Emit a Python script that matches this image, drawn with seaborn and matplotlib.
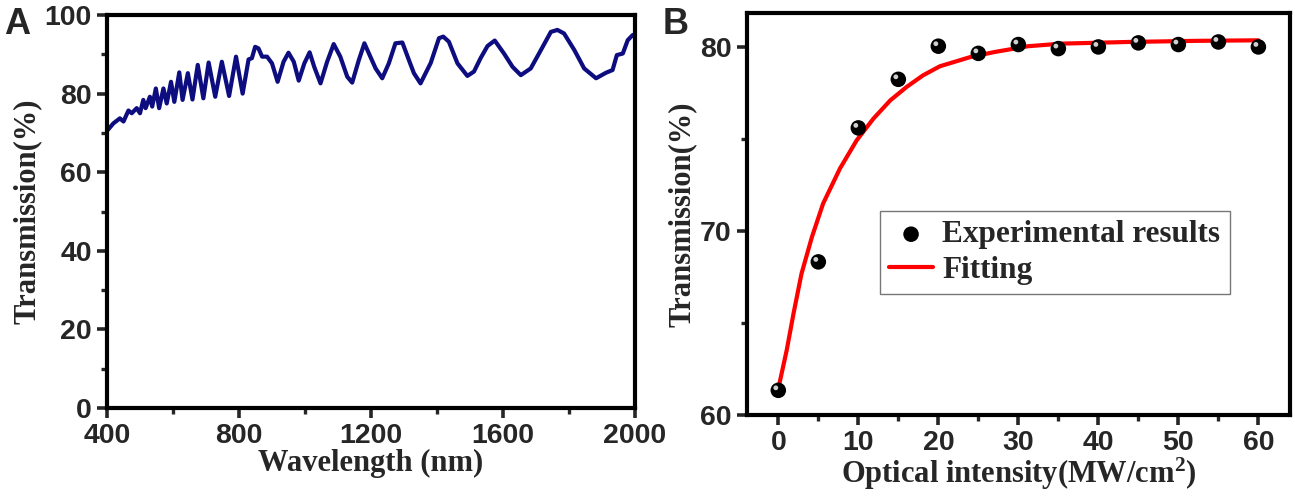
import numpy as np
import pandas as pd
import matplotlib
matplotlib.use("Agg")
import matplotlib.pyplot as plt
import matplotlib.transforms as mtransforms
from matplotlib.ticker import MultipleLocator
import seaborn as sns

# Panel A: transmission spectrum
wavelength = [400, 419, 439, 450, 465, 475, 490, 500, 510, 517, 530, 537, 548, 558,
              571, 581, 594, 604, 619, 629, 645, 659, 675, 692, 708, 728, 748, 770,
              791, 811, 829, 839, 849, 859, 870, 885, 900, 917, 935, 950, 966, 981,
              998, 1014, 1028, 1047, 1067, 1087, 1107, 1128, 1143, 1163, 1180, 1198,
              1214, 1234, 1254, 1274, 1295, 1315, 1330, 1350, 1381, 1406, 1419, 1436,
              1462, 1492, 1512, 1532, 1553, 1575, 1603, 1629, 1654, 1684, 1715, 1745,
              1765, 1785, 1816, 1846, 1882, 1912, 1932, 1945, 1963, 1978, 1993, 2000]
spectrum = [70.5, 72.4, 73.7, 72.9, 75.7, 75.0, 76.3, 75.0, 78.4, 76.3, 79.2, 76.7, 81.3, 76.3,
            81.3, 77.5, 83.0, 77.9, 85.4, 78.4, 85.2, 78.5, 87.3, 78.8, 87.9, 79.2, 88.1, 79.4,
            89.4, 80.0, 88.7, 89.0, 91.9, 91.5, 89.4, 89.4, 87.7, 83.0, 88.1, 90.4, 88.1, 83.3,
            87.7, 90.5, 86.8, 82.6, 88.1, 92.6, 89.4, 84.3, 82.8, 88.5, 92.8, 89.4,
            86.4, 83.9, 87.7, 92.8, 93.0, 88.5, 85.2, 82.6, 87.8, 94.1, 94.5, 93.2,
            87.7, 84.5, 85.6, 89.0, 92.1, 93.5, 90.2, 86.8, 84.7, 86.4, 91.1, 95.7,
            96.2, 95.3, 91.1, 86.4, 83.9, 85.3, 86.0, 89.8, 90.2, 93.6, 94.9, 95.0]

# Panel B: transmission vs optical intensity
intensity = [0, 5, 10, 15, 20, 25, 30, 35, 40, 45, 50, 55, 60]
measured = [61.34, 68.32, 75.6, 78.24, 80.04, 79.65, 80.13, 79.91, 80.0, 80.22, 80.13, 80.27, 80.0]
fit_x = [0, 1.05, 1.9, 2.9, 4.2, 5.6, 7.7, 9.8, 11.9, 14.0, 16.05, 18.1, 20.2, 24.0,
         27.1, 31.25, 35.4, 43.75, 52.1, 60]
fit_y = [61.43, 63.52, 65.51, 67.68, 69.67, 71.49, 73.39, 74.93, 76.11, 77.10, 77.83, 78.46,
         78.95, 79.45, 79.73, 80.04, 80.18, 80.27, 80.33, 80.36]

sns.set_style("ticks")
plt.rcParams["mathtext.fontset"] = "custom"
plt.rcParams["mathtext.bf"] = "Liberation Serif:bold"
plt.rcParams["mathtext.rm"] = "Liberation Serif:bold"
plt.rcParams["mathtext.default"] = "bf"

tick_font = {"family": "Liberation Sans", "weight": "bold", "size": 20.5}
label_font = {"family": "Liberation Serif", "weight": "bold", "size": 22}

fig = plt.figure(figsize=(12.95, 4.96), dpi=100)
axA = fig.add_axes([107 / 1295, 1 - 408 / 496, 528 / 1295, 393 / 496])
axB = fig.add_axes([746.7 / 1295, 1 - 415 / 496, 543.3 / 1295, 402.3 / 496])


def style_axis(ax):
    for sp in ax.spines.values():
        sp.set_linewidth(3.0)
        sp.set_color("black")
        sp.set_visible(True)
    ax.tick_params(which="major", direction="out", length=7, width=2.6, pad=4,
                   top=False, right=False)
    ax.tick_params(which="minor", direction="out", length=4, width=2.4,
                   top=False, right=False)
    for lab in ax.get_xticklabels() + ax.get_yticklabels():
        lab.set_fontproperties(tick_font)
    ax.grid(False)


# ---- panel A
dfA = pd.DataFrame({"wl": wavelength, "T": spectrum})
sns.lineplot(data=dfA, x="wl", y="T", ax=axA, color="#0d0d80", linewidth=3.0,
             solid_joinstyle="round")
axA.set_xlim(400, 2000)
axA.set_ylim(0, 100)
axA.xaxis.set_major_locator(MultipleLocator(400))
axA.xaxis.set_minor_locator(MultipleLocator(200))
axA.yaxis.set_major_locator(MultipleLocator(20))
axA.yaxis.set_minor_locator(MultipleLocator(10))
axA.set_xlabel("Wavelength (nm)", fontdict=label_font, labelpad=0)
axA.set_ylabel("Transmission(%)", fontdict=label_font, labelpad=2)
style_axis(axA)

# ---- panel B
dfB = pd.DataFrame({"I": intensity, "T": measured})
dfFit = pd.DataFrame({"I": fit_x, "T": fit_y})
sns.lineplot(data=dfFit, x="I", y="T", ax=axB, color="red", linewidth=3.0,
             label="Fitting", zorder=2)
sns.scatterplot(data=dfB, x="I", y="T", ax=axB, color="black", s=125, edgecolor="none",
                label="Experimental results", zorder=3)
# little highlight on each sphere
shine = mtransforms.offset_copy(axB.transData, fig=fig, x=-1.8, y=1.8, units="points")
axB.scatter(dfB["I"], dfB["T"], s=12, color="#d0d0d0", edgecolor="none",
            transform=shine, zorder=4)
axB.set_xlim(-3.95, 63.95)
axB.set_ylim(60, 81.86)
axB.xaxis.set_major_locator(MultipleLocator(10))
axB.xaxis.set_minor_locator(MultipleLocator(5))
axB.yaxis.set_major_locator(MultipleLocator(10))
axB.yaxis.set_minor_locator(MultipleLocator(5))
axB.set_xlabel("Optical intensity(MW/cm$^{2}$)", fontdict=label_font, labelpad=0)
axB.set_ylabel("Transmission(%)", fontdict=label_font, labelpad=2)
style_axis(axB)

handles, labels = axB.get_legend_handles_labels()
order = [labels.index("Experimental results"), labels.index("Fitting")]
leg = axB.legend([handles[i] for i in order], [labels[i] for i in order],
                 loc="upper left", bbox_to_anchor=(0.245, 0.507),
                 prop={"family": "Liberation Serif", "weight": "bold", "size": 22.5},
                 frameon=True, fancybox=False, edgecolor="#555555",
                 handlelength=1.4, handletextpad=0.3, borderpad=0.3,
                 labelspacing=0.2, borderaxespad=0)
leg.get_frame().set_linewidth(1.0)

fig.text(0.003, 0.985, "A", fontsize=26, fontweight="bold", family="Liberation Sans",
         va="top", ha="left")
fig.text(0.512, 0.985, "B", fontsize=26, fontweight="bold", family="Liberation Sans",
         va="top", ha="left")

fig.savefig("out.png", dpi=100)
